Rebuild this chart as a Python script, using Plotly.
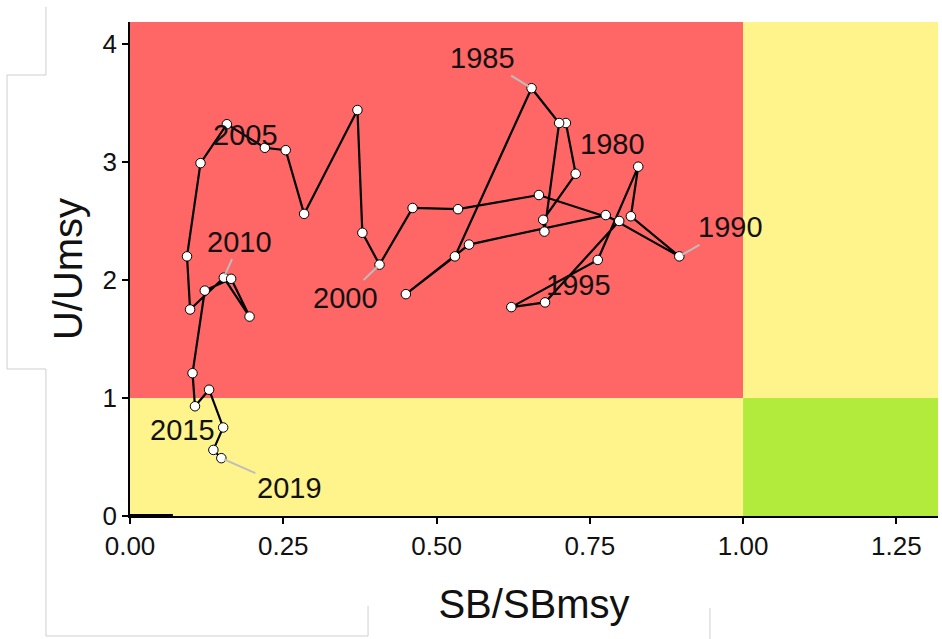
import plotly.graph_objects as go

# ---------------- data ----------------
years = list(range(1980, 2020))
sb_ratio = [0.711, 0.727, 0.674, 0.676, 0.700, 0.655, 0.530, 0.450, 0.553, 0.776,
            0.896, 0.817, 0.829, 0.763, 0.622, 0.677, 0.798, 0.667, 0.535, 0.461,
            0.407, 0.379, 0.371, 0.284, 0.254, 0.220, 0.158, 0.115, 0.093, 0.098,
            0.153, 0.195, 0.165, 0.122, 0.102, 0.106, 0.129, 0.152, 0.136, 0.149]
u_ratio = [3.33, 2.90, 2.51, 2.41, 3.33, 3.625, 2.20, 1.88, 2.30, 2.55,
           2.20, 2.54, 2.96, 2.17, 1.77, 1.81, 2.50, 2.72, 2.60, 2.61,
           2.13, 2.40, 3.44, 2.56, 3.10, 3.12, 3.32, 2.99, 2.20, 1.75,
           2.02, 1.69, 2.01, 1.91, 1.21, 0.93, 1.07, 0.75, 0.56, 0.49]
label_years = [1980, 1985, 1990, 1995, 2000, 2005, 2010, 2015, 2019]
baseline_x = [0.0, 0.07]
baseline_y = [0.0, 0.0]

sb_ref = 1.0
u_ref = 1.0
x_max = 1.318
y_max = 4.186
x_ticks = [0, 0.25, 0.5, 0.75, 1.0, 1.25]
y_ticks = [0, 1, 2, 3, 4]

# label placement: pixel offset of label centre from its point (screen coords,
# +x right, +y down) and whether a leader segment is drawn -- style only
label_offsets = {
    1980: (47, 21, False),
    1985: (-49, -30, True),
    1990: (51, -29, True),
    1995: (33, -17, False),
    2000: (-34, 33, True),
    2005: (-19, -13, False),
    2010: (16, -36, True),
    2015: (-12, 24, False),
    2019: (68, 30, True),
}

RED = "#FF6666"
YELLOW = "#FFF48C"
GREEN = "#B3EB3C"
FONT = "Liberation Sans, Arial, sans-serif"
TXT = "#111111"

fig = go.Figure()

fig.add_trace(go.Scatter(x=baseline_x, y=baseline_y, mode="lines",
                         line=dict(color="black", width=4),
                         hoverinfo="skip", showlegend=False))

fig.add_trace(go.Scatter(
    x=sb_ratio, y=u_ratio, mode="lines+markers",
    line=dict(color="black", width=2.2),
    marker=dict(size=9.5, color="white", line=dict(color="black", width=1)),
    text=[str(y) for y in years], hoverinfo="text", showlegend=False))

# background status regions
shapes = [
    dict(type="rect", xref="x", yref="y", x0=0, x1=sb_ref, y0=u_ref, y1=y_max,
         fillcolor=RED, line=dict(width=0), layer="below"),
    dict(type="rect", xref="x", yref="y", x0=0, x1=sb_ref, y0=0, y1=u_ref,
         fillcolor=YELLOW, line=dict(width=0), layer="below"),
    dict(type="rect", xref="x", yref="y", x0=sb_ref, x1=x_max, y0=u_ref, y1=y_max,
         fillcolor=YELLOW, line=dict(width=0), layer="below"),
    dict(type="rect", xref="x", yref="y", x0=sb_ref, x1=x_max, y0=0, y1=u_ref,
         fillcolor=GREEN, line=dict(width=0), layer="below"),
]

# faint page outline seen around the reference figure (pixel polylines)
W, H = 942, 639
L, R, T, B = 130, 4, 22, 123
pw, ph = W - L - R, H - T - B
frame_px = [
    [(46, 7), (46, 75), (7, 75), (7, 369), (46, 369), (46, 636), (368, 636), (368, 606)],
    [(710, 639), (710, 608)],
]
for poly in frame_px:
    pts = [((px - L) / pw, (H - B - py) / ph) for px, py in poly]
    path = "M " + " L ".join(f"{a:.4f},{b:.4f}" for a, b in pts)
    shapes.append(dict(type="path", xref="paper", yref="paper", path=path,
                       line=dict(color="#CFCFCF", width=1), layer="above"))

annotations = []
for yr in label_years:
    i = years.index(yr)
    dx, dy, arrow = label_offsets[yr]
    common = dict(x=sb_ratio[i], y=u_ratio[i], xref="x", yref="y", text=str(yr),
                  font=dict(family=FONT, size=29, color=TXT))
    if arrow:
        annotations.append(dict(common, showarrow=True, arrowhead=0, arrowwidth=2,
                                arrowcolor="#BDBDBD", ax=dx, ay=dy, standoff=3))
    else:
        annotations.append(dict(common, showarrow=False, xshift=dx, yshift=-dy))

fig.update_layout(
    width=W, height=H,
    margin=dict(l=L, r=R, t=T, b=B),
    paper_bgcolor="white", plot_bgcolor="white",
    shapes=shapes, annotations=annotations,
    font=dict(family=FONT, color="black"),
    xaxis=dict(range=[0, x_max], tickvals=x_ticks, tickformat=".2f",
               showgrid=False, zeroline=False, showline=True, linecolor="black",
               linewidth=1.5, ticks="outside", ticklen=6, tickwidth=1.5,
               tickcolor="black", tickfont=dict(size=26, color=TXT),
               title=dict(text="SB/SBmsy", font=dict(size=40, color=TXT),
                          standoff=30)),
    yaxis=dict(range=[0, y_max], tickvals=y_ticks,
               showgrid=False, zeroline=False, showline=True, linecolor="black",
               linewidth=1.5, ticks="outside", ticklen=6, tickwidth=1.5,
               tickcolor="black", tickfont=dict(size=26, color=TXT),
               title=dict(text="U/Umsy", font=dict(size=40, color=TXT),
                          standoff=8)),
)

fig.write_html("out.html")
